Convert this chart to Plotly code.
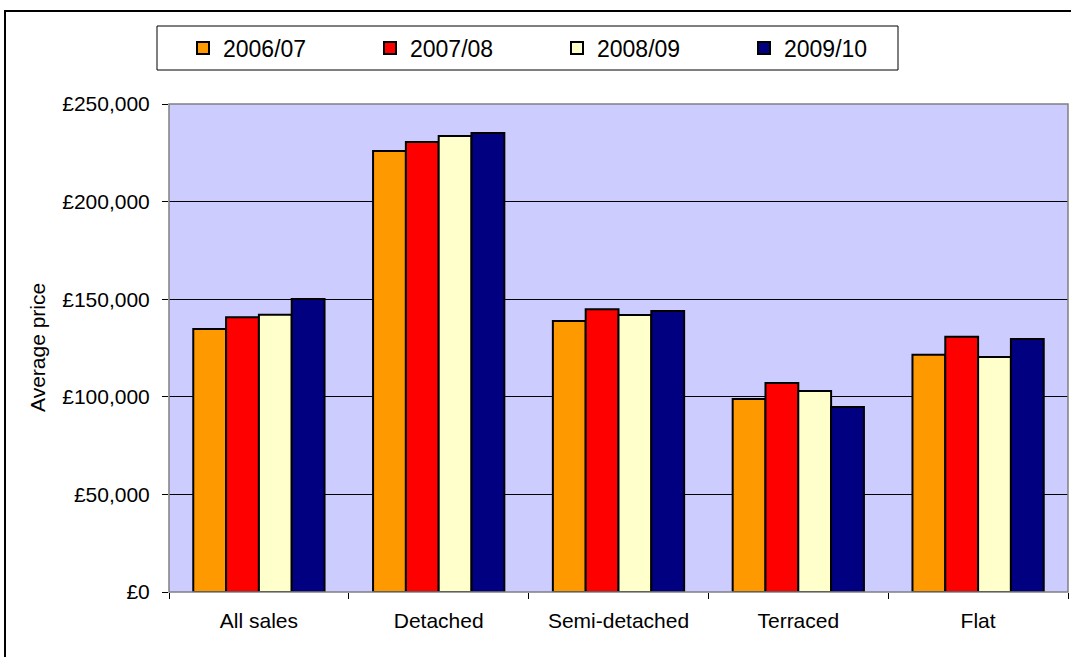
import plotly.graph_objects as go

categories = ["All sales", "Detached", "Semi-detached", "Terraced", "Flat"]
series_names = ["2006/07", "2007/08", "2008/09", "2009/10"]
v_2006_07 = [134700, 225900, 138800, 98900, 121500]
v_2007_08 = [140700, 230500, 144800, 107100, 130800]
v_2008_09 = [142000, 233600, 141900, 103000, 120400]
v_2009_10 = [150100, 235100, 144000, 94800, 129600]
y_ticks = [0, 50000, 100000, 150000, 200000, 250000]
y_ticktext = ["£" + format(v, ",") for v in y_ticks]

colors = ["#FF9900", "#FF0000", "#FFFFCC", "#000080"]
values = [v_2006_07, v_2007_08, v_2008_09, v_2009_10]

W, H = 1071, 657
L, R, T, B = 169, 3, 104, 65
pw, ph = W - L - R, H - T - B

def px(x):
    return (x - L) / pw

def py(y):
    return (H - B - y) / ph

fig = go.Figure()
for name, vals, c in zip(series_names, values, colors):
    fig.add_trace(go.Bar(
        x=categories, y=vals, name=name,
        marker=dict(color=c, line=dict(color="black", width=2)),
    ))

FAM = "Arial, Liberation Sans, sans-serif"
font = dict(family=FAM, size=21, color="black")
lfont = dict(family=FAM, size=23, color="black")

fig.update_layout(
    width=W, height=H,
    margin=dict(l=L, r=R, t=T, b=B),
    paper_bgcolor="white",
    plot_bgcolor="#CCCCFF",
    font=font,
    barmode="group",
    bargap=0.27,
    bargroupgap=0,
    showlegend=True,
    legend=dict(
        orientation="h",
        x=px(183), y=py(48), xanchor="left", yanchor="middle",
        bgcolor="rgba(0,0,0,0)",
        borderwidth=0,
        entrywidth=142, entrywidthmode="pixels",
        font=lfont,
        traceorder="normal",
    ),
    xaxis=dict(
        showline=False,
        ticks="outside", ticklen=6, tickcolor="black",
        tickson="boundaries",
        tickfont=font,
        ticklabelstandoff=14,
        showgrid=False,
    ),
    yaxis=dict(
        range=[0, 250000],
        tickvals=y_ticks, ticktext=y_ticktext,
        ticks="outside", ticklen=6, tickcolor="black",
        ticklabelstandoff=8,
        showgrid=True, gridcolor="black", gridwidth=1,
        zeroline=False,
        showline=False,
        tickfont=font,
    ),
    annotations=[
        dict(text="Average price", xref="paper", yref="paper",
             x=px(37), y=py(348), xanchor="center", yanchor="middle",
             textangle=-90, showarrow=False, font=font),
    ],
    shapes=[
        dict(type="rect", xref="paper", yref="paper", x0=0, x1=1, y0=0, y1=1,
             line=dict(color="#808080", width=1.5), layer="above"),
        dict(type="rect", xref="paper", yref="paper",
             x0=px(157), x1=px(898), y0=py(70), y1=py(26),
             line=dict(color="black", width=1), fillcolor="white", layer="below"),
        dict(type="rect", xref="paper", yref="paper",
             x0=px(5), x1=px(1090), y0=py(690), y1=py(11),
             line=dict(color="black", width=2), layer="below"),
    ],
)

fig.write_html("out.html", config={"displayModeBar": False},
               post_script="document.body.style.margin='0';")
